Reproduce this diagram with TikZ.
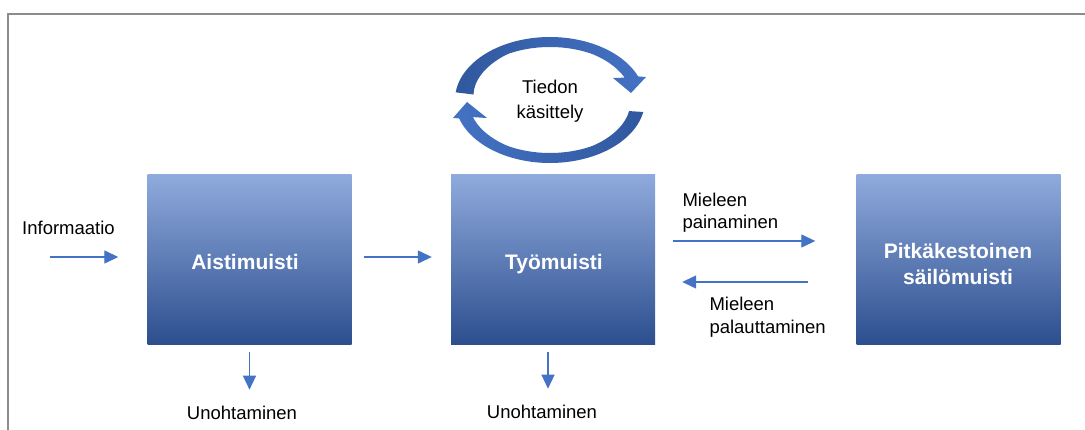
\documentclass[tikz,border=0pt]{standalone}
\usepackage{fontspec}
\setmainfont{Liberation Sans}
\usetikzlibrary{arrows.meta,calc}
\definecolor{acc}{HTML}{4472C4}
\definecolor{accdark}{HTML}{30589E}
\definecolor{boxtop}{HTML}{8FAADC}
\definecolor{boxbot}{HTML}{2C4E8E}
\definecolor{framegray}{HTML}{8C8C8C}
\begin{document}
\begin{tikzpicture}[x=1pt,y=-1pt,
  membox/.style={rectangle, minimum width=204pt, minimum height=170pt, inner sep=0pt,
    top color=boxtop, middle color=acc, bottom color=boxbot, draw=none},
  boxtxt/.style={text=white, font=\bfseries\fontsize{21}{26.7}\selectfont, inner sep=0pt, align=center},
  lbl/.style={text=black, font=\fontsize{18.5}{22.3}\selectfont, inner sep=0pt},
  arr/.style={draw=acc, line width=1.3pt, -{Triangle[length=14pt,width=13pt]}},
  cyc/.style={draw=none}]
\fill[white, use as bounding box] (0,0) rectangle (1085,430);
\draw[framegray, line width=1.5pt] (8,430) -- (8,14) -- (1085,14);

% boxes
\node[membox] (a1) at (249.5,260) {};
\node[membox] (a2) at (553,260) {};
\node[membox] (a3) at (958.5,260) {};
\node[boxtxt, anchor=base] (t1) at (245,269.3) {Aistimuisti};
\node[boxtxt, anchor=base] (t2) at (554,270) {Työmuisti};
\node[boxtxt, anchor=center] (t3) at (958,264) {Pitkäkestoinen\\säilömuisti};

% labels
\node[lbl, anchor=base west] (inf) at (22,235) {Informaatio};
\node[lbl, anchor=base] (u1) at (242,419) {Unohtaminen};
\node[lbl, anchor=base] (u2) at (542,418) {Unohtaminen};
\node[lbl, anchor=north west, align=left] (m1) at (682.3,192.7) {Mieleen\\painaminen};
\node[lbl, anchor=north west, align=left, font=\fontsize{18.5}{23}\selectfont] (m2) at (709.3,296.7) {Mieleen\\palauttaminen};
\node[lbl, anchor=north, align=center, font=\fontsize{18.5}{25.6}\selectfont] (td) at (550,79.4) {Tiedon\\käsittely};

% connectors
\coordinate (src) at (50,257);
\draw[arr] (src) -- ([xshift=-29pt,yshift=3pt]a1.west);
\draw[arr] ([xshift=12pt,yshift=3pt]a1.east) -- ([xshift=-19pt,yshift=3pt]a2.west);
\draw[arr] ([xshift=18pt,yshift=19pt]a2.east) -- ([xshift=-41pt,yshift=19pt]a3.west);
\draw[arr] ([xshift=-48pt,yshift=-22pt]a3.west) -- ([xshift=27pt,yshift=-22pt]a2.east);
\draw[arr, shorten <=7pt, shorten >=15.7pt] (a1.south) -- (a1.south |- u1.north);
\draw[arr, shorten <=7pt, shorten >=15.7pt] ([xshift=-5pt]a2.south) -- ([xshift=-5pt]a2.south |- u2.north);

% processing cycle (tapered circular arrows)
\shade[cyc, left color=accdark, middle color=acc, right color=acc]
  plot[domain=-173:-22, samples=70] ({550+95*cos(\x)},{100+63*sin(\x)})
  -- (646,77) -- (631,93) -- (613,78)
  -- plot[domain=-26:-173, samples=70]
     ({550+(95-(10+8*max(0,(-120-\x)/53)+2*max(0,(\x+60)/34)))*cos(\x)},
      {100+(63-(10+8*max(0,(-120-\x)/53)+2*max(0,(\x+60)/34)))*sin(\x)})
  -- cycle;
\shade[cyc, left color=acc, middle color=acc, right color=accdark]
  plot[domain=11:163, samples=70] ({550+95*cos(\x)},{100+63*sin(\x)})
  -- (453,118) -- (467,102) -- (487,118)
  -- plot[domain=160:13, samples=70]
     ({550+(95-(10+4*max(0,(60-\x)/49)+3*max(0,(\x-120)/40)))*cos(\x)},
      {100+(63-(10+4*max(0,(60-\x)/49)+3*max(0,(\x-120)/40)))*sin(\x)})
  -- cycle;
\end{tikzpicture}
\end{document}
